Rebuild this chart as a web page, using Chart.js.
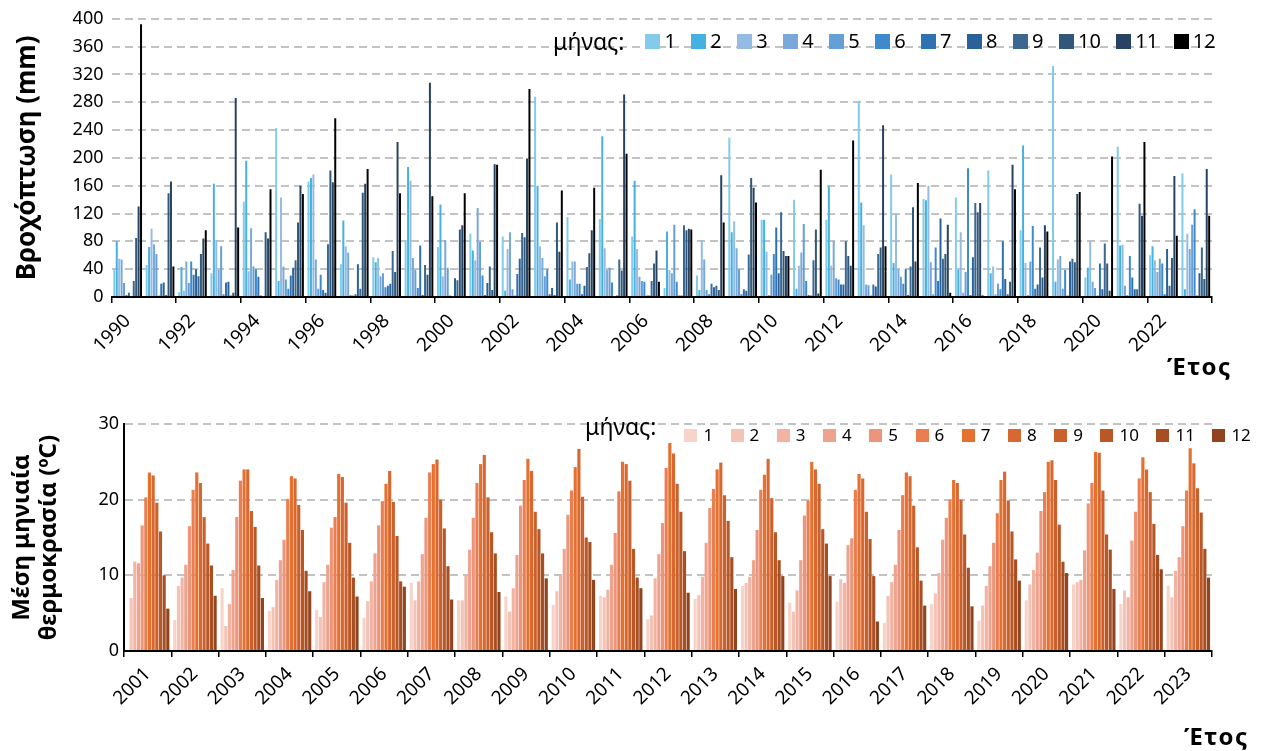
<!DOCTYPE html>
<html>
<head>
<meta charset="utf-8">
<script src="https://cdn.jsdelivr.net/npm/chart.js@4.4.1/dist/chart.umd.min.js"></script>
<style>
    html, body { margin: 0; padding: 0; background: #fff; }
    body { width: 1261px; height: 751px; position: relative; overflow: hidden; font-family: 'Noto Sans', 'Liberation Sans', Arial, sans-serif; color: #000; }
    .box { position: absolute; left: 0; width: 1261px; }
    #rainBox { top: 0; height: 385px; }
    #tempBox { top: 385px; height: 366px; }
    .legend { position: absolute; display: flex; align-items: center; white-space: nowrap; height: 24px; line-height: 24px; }
    .legend .ttl { font-size: 23px; }
    .legend .sw { display: inline-block; }
    .axisTitle { position: absolute; font-weight: bold; font-size: 24px; line-height: 28px; letter-spacing: 1.5px; }
</style>
</head>
<body>
<div class="box" id="rainBox"><canvas id="rainChart"></canvas></div>
<div class="box" id="tempBox"><canvas id="tempChart"></canvas></div>

<div class="legend" id="rainLegend" style="left:553px; top:29px;"></div>
<div class="legend" id="tempLegend" style="left:585px; top:423px;"></div>
<div class="axisTitle" style="left:1167px; top:352px;">Έτος</div>
<div class="axisTitle" style="left:1184px; top:722px;">Έτος</div>

<script>
// month labels (legend) and colours
var monthNames = ['1', '2', '3', '4', '5', '6', '7', '8', '9', '10', '11', '12'];
var rainColors = ['#82cbeb', '#45b1e1', '#94bce3', '#7aa9d9', '#649fd6', '#3f89cd',
                  '#2e72b3', '#2a6198', '#3b6791', '#30587b', '#274361', '#000000'];
var tempColors = ['#f8d3c8', '#f5c3b6', '#f2b3a3', '#eea38f', '#ec957a', '#eb7e51',
                  '#e6702e', '#d8682f', '#ca602b', '#b95826', '#a74f22', '#91441d'];

// Precipitation (mm), one row per year, Jan..Dec
var rainYears = ['1990', '1991', '1992', '1993', '1994', '1995', '1996', '1997', '1998', '1999',
                 '2000', '2001', '2002', '2003', '2004', '2005', '2006', '2007', '2008', '2009',
                 '2010', '2011', '2012', '2013', '2014', '2015', '2016', '2017', '2018', '2019',
                 '2020', '2021', '2022', '2023'];
var rain1990 = [40, 80, 55, 54, 20, 3, 6, 1, 23, 85, 130, 392];
var rain1991 = [46, 72, 98, 76, 62, 2, 19, 21, 3, 149, 166, 44];
var rain1992 = [7, 43, 9, 51, 20, 51, 32, 40, 30, 62, 84, 96];
var rain1993 = [34, 163, 82, 39, 73, 4, 21, 22, 2, 6, 286, 100];
var rain1994 = [137, 196, 37, 99, 44, 40, 29, 2, 1, 93, 84, 155];
var rain1995 = [243, 23, 143, 44, 25, 12, 31, 42, 53, 107, 160, 148];
var rain1996 = [166, 171, 176, 54, 12, 32, 10, 6, 76, 182, 165, 257];
var rain1997 = [47, 110, 73, 64, 3, 2, 4, 47, 12, 150, 163, 184];
var rain1998 = [57, 50, 56, 30, 34, 14, 16, 19, 66, 36, 223, 149];
var rain1999 = [82, 187, 167, 56, 39, 13, 74, 3, 46, 32, 308, 145];
var rain2000 = [72, 133, 30, 82, 42, 2, 1, 27, 24, 97, 103, 149];
var rain2001 = [91, 67, 53, 128, 79, 31, 3, 20, 44, 10, 191, 190];
var rain2002 = [87, 9, 69, 93, 11, 2, 33, 55, 92, 86, 199, 299];
var rain2003 = [288, 160, 73, 56, 30, 40, 4, 13, 3, 107, 65, 153];
var rain2004 = [115, 25, 51, 51, 19, 19, 4, 16, 43, 63, 96, 157];
var rain2005 = [112, 231, 70, 39, 42, 21, 1, 2, 54, 38, 291, 206];
var rain2006 = [87, 167, 69, 29, 23, 22, 2, 2, 23, 48, 67, 22];
var rain2007 = [13, 94, 39, 34, 104, 22, 2, 2, 103, 96, 98, 97];
var rain2008 = [31, 10, 82, 54, 10, 4, 19, 14, 16, 10, 175, 107];
var rain2009 = [229, 93, 109, 70, 40, 4, 11, 9, 61, 171, 157, 136];
var rain2010 = [111, 111, 65, 3, 32, 62, 100, 34, 122, 66, 59, 59];
var rain2011 = [140, 12, 45, 64, 105, 23, 3, 2, 53, 97, 5, 183];
var rain2012 = [111, 159, 45, 81, 27, 25, 18, 18, 80, 59, 45, 225];
var rain2013 = [282, 136, 103, 18, 17, 2, 18, 15, 62, 71, 247, 73];
var rain2014 = [176, 49, 120, 40, 29, 19, 40, 3, 44, 129, 51, 164];
var rain2015 = [141, 139, 160, 50, 4, 71, 23, 113, 55, 62, 104, 6];
var rain2016 = [143, 39, 93, 6, 36, 185, 3, 57, 135, 122, 135, 2];
var rain2017 = [182, 34, 44, 4, 19, 11, 80, 26, 4, 22, 190, 155];
var rain2018 = [96, 218, 49, 3, 51, 102, 12, 18, 71, 28, 103, 94];
var rain2019 = [332, 22, 54, 59, 12, 39, 2, 51, 55, 50, 148, 151];
var rain2020 = [28, 42, 80, 22, 13, 2, 48, 11, 77, 48, 9, 202];
var rain2021 = [216, 74, 75, 16, 3, 59, 28, 11, 11, 134, 117, 223];
var rain2022 = [60, 73, 53, 36, 55, 48, 4, 69, 16, 56, 174, 88];
var rain2023 = [178, 11, 91, 69, 104, 126, 2, 34, 71, 26, 184, 117];

// Mean monthly temperature (ºC), one row per year, Jan..Dec
var tempYears = ['2001', '2002', '2003', '2004', '2005', '2006', '2007', '2008', '2009', '2010',
                 '2011', '2012', '2013', '2014', '2015', '2016', '2017', '2018', '2019', '2020',
                 '2021', '2022', '2023'];
var temp2001 = [null, 7.0, 11.8, 11.6, 16.6, 20.3, 23.6, 23.2, 19.6, 15.8, 10.0, 5.6];
var temp2002 = [4.1, 8.6, 9.7, 11.4, 16.5, 21.3, 23.6, 22.2, 17.7, 14.2, 11.3, 7.3];
var temp2003 = [8.3, 3.3, 6.2, 10.7, 17.7, 22.5, 24.0, 24.0, 18.5, 16.4, 11.3, 7.0];
var temp2004 = [5.3, 5.8, 9.4, 12.0, 14.7, 20.1, 23.1, 22.8, 19.3, 16.0, 10.6, 7.9];
var temp2005 = [5.4, 4.5, 9.1, 11.4, 16.3, 17.7, 23.4, 23.0, 19.6, 14.3, 9.7, 7.2];
var temp2006 = [4.4, 6.6, 9.2, 12.9, 16.6, 19.8, 22.1, 23.8, 19.7, 15.2, 9.2, 8.5];
var temp2007 = [9.0, 6.7, 9.2, 12.8, 17.6, 23.6, 24.7, 25.3, 20.0, 16.2, 11.2, 6.8];
var temp2008 = [6.7, 6.7, 10.0, 13.4, 17.6, 22.2, 24.7, 25.9, 20.3, 15.7, 12.9, 7.8];
var temp2009 = [7.2, 5.2, 8.3, 12.7, 19.2, 22.6, 25.4, 23.8, 18.4, 16.1, 12.9, 9.6];
var temp2010 = [6.1, 7.9, 10.1, 13.5, 18.0, 21.2, 24.3, 26.7, 20.4, 15.0, 14.4, 9.4];
var temp2011 = [7.3, 7.1, 8.1, 11.4, 15.6, 21.1, 25.0, 24.7, 22.5, 13.5, 9.7, 8.3];
var temp2012 = [4.2, 4.7, 9.6, 12.8, 16.9, 24.2, 27.5, 26.1, 22.1, 18.4, 13.2, 7.7];
var temp2013 = [6.9, 7.4, 9.8, 14.3, 18.9, 21.4, 24.0, 24.9, 20.6, 17.2, 12.4, 8.2];
var temp2014 = [8.6, 9.0, 9.8, 12.0, 16.0, 21.3, 23.3, 25.4, 20.2, 15.7, 12.0, 9.9];
var temp2015 = [6.4, 5.2, 8.0, 12.0, 17.9, 19.9, 25.0, 24.0, 22.1, 16.1, 14.2, 9.9];
var temp2016 = [6.5, 9.5, 9.0, 14.0, 14.9, 21.3, 23.4, 22.8, 18.4, 14.8, 9.9, 3.9];
var temp2017 = [3.7, 7.3, 9.1, 11.4, 16.0, 20.6, 23.6, 23.1, 19.2, 13.7, 9.3, 6.0];
var temp2018 = [6.2, 7.6, 10.3, 14.7, 17.6, 20.0, 22.6, 22.2, 20.0, 15.4, 11.0, 5.9];
var temp2019 = [4.0, 6.0, 8.6, 11.2, 14.3, 18.2, 22.6, 23.7, 19.9, 15.8, 12.1, 9.3];
var temp2020 = [6.7, 8.8, 10.7, 13.0, 18.5, 21.0, 25.0, 25.2, 22.6, 16.7, 11.8, 10.3];
var temp2021 = [8.8, 9.1, 9.4, 13.3, 19.5, 22.2, 26.3, 26.2, 21.2, 15.4, 13.4, 8.2];
var temp2022 = [6.2, 8.0, 7.1, 14.6, 18.4, 22.8, 25.6, 24.0, 21.0, 16.8, 12.7, 10.8];
var temp2023 = [8.6, 7.1, 10.6, 12.4, 16.5, 21.2, 26.8, 24.8, 21.5, 18.3, 13.5, 9.7];

var rainRows = [rain1990, rain1991, rain1992, rain1993, rain1994, rain1995, rain1996, rain1997,
                rain1998, rain1999, rain2000, rain2001, rain2002, rain2003, rain2004, rain2005,
                rain2006, rain2007, rain2008, rain2009, rain2010, rain2011, rain2012, rain2013,
                rain2014, rain2015, rain2016, rain2017, rain2018, rain2019, rain2020, rain2021,
                rain2022, rain2023];
var tempRows = [temp2001, temp2002, temp2003, temp2004, temp2005, temp2006, temp2007, temp2008,
                temp2009, temp2010, temp2011, temp2012, temp2013, temp2014, temp2015, temp2016,
                temp2017, temp2018, temp2019, temp2020, temp2021, temp2022, temp2023];

var FONT = "'Noto Sans', 'Liberation Sans', Arial, sans-serif";
var GRID_GRAY = '#c3c3c3';

// one dataset per month: the month's value in every year
function monthDatasets(rows, colors, barPct) {
    return monthNames.map(function (name, m) {
        return {
            label: name,
            data: rows.map(function (r) { return r[m]; }),
            backgroundColor: colors[m],
            borderWidth: 0,
            barPercentage: barPct.bar,
            categoryPercentage: barPct.cat
        };
    });
}

function buildLegend(id, colors, opt) {
    var el = document.getElementById(id);
    var t = document.createElement('span');
    t.className = 'ttl';
    t.textContent = 'μήνας:';
    t.style.marginRight = opt.titleGap + 'px';
    t.style.position = 'relative';
    t.style.top = opt.titleShift + 'px';
    el.appendChild(t);
    monthNames.forEach(function (name, m) {
        var sw = document.createElement('span');
        sw.className = 'sw';
        sw.style.width = opt.box + 'px';
        sw.style.height = opt.box + 'px';
        sw.style.background = colors[m];
        sw.style.marginRight = opt.gap + 'px';
        el.appendChild(sw);
        var lb = document.createElement('span');
        lb.textContent = name;
        lb.style.fontSize = opt.fontSize + 'px';
        lb.style.marginRight = (m < 11 ? opt.pad : 0) + 'px';
        el.appendChild(lb);
    });
}

document.addEventListener("DOMContentLoaded", function () {
    Chart.defaults.font.family = FONT;
    Chart.defaults.color = '#000';

    // Precipitation chart
    var ctxRain = document.getElementById("rainChart").getContext('2d');
    var rainChart = new Chart(ctxRain, {
        type: 'bar',
        data: {
            labels: rainYears,
            datasets: monthDatasets(rainRows, rainColors, { bar: 0.82, cat: 0.9 })
        },
        options: {
            responsive: true,
            maintainAspectRatio: false,
            animation: false,
            layout: { padding: { top: 17, right: 49, left: 0, bottom: 0 } },
            plugins: { legend: { display: false }, tooltip: { enabled: false } },
            scales: {
                x: {
                    grid: {
                        offset: true,
                        drawOnChartArea: false,
                        drawTicks: true,
                        tickLength: 6,
                        lineWidth: 1.5,
                        color: function (c) {
                            if (c.tick === undefined) return '#000';
                            return c.index % 2 === 0 ? '#000' : 'rgba(0,0,0,0)';
                        }
                    },
                    border: { display: true, color: '#000', width: 2 },
                    ticks: {
                        autoSkip: false,
                        minRotation: 45,
                        maxRotation: 45,
                        padding: 7,
                        font: { size: 19 },
                        callback: function (val, i) { return i % 2 === 0 ? rainYears[i] : ''; }
                    },
                    afterFit: function (scale) { scale.height = 88; }
                },
                y: {
                    min: 0,
                    max: 400,
                    ticks: { stepSize: 40, padding: 8, font: { size: 18 } },
                    grid: { color: GRID_GRAY, lineWidth: 2, drawTicks: false },
                    border: { display: false, dash: [8, 5] },
                    title: {
                        display: true,
                        text: 'Βροχόπτωση (mm)',
                        font: { size: 26, weight: 'bold', lineHeight: 1.2 },
                        padding: { top: 12, bottom: 0 }
                    },
                    afterFit: function (scale) { scale.width = 111.5; }
                }
            }
        }
    });

    // Temperature chart
    var ctxTemp = document.getElementById("tempChart").getContext('2d');
    var tempChart = new Chart(ctxTemp, {
        type: 'bar',
        data: {
            labels: tempYears,
            datasets: monthDatasets(tempRows, tempColors, { bar: 0.86, cat: 0.93 })
        },
        options: {
            responsive: true,
            maintainAspectRatio: false,
            animation: false,
            layout: { padding: { top: 39, right: 49, left: 0, bottom: 0 } },
            plugins: { legend: { display: false }, tooltip: { enabled: false } },
            scales: {
                x: {
                    grid: {
                        offset: true,
                        drawOnChartArea: false,
                        drawTicks: true,
                        tickLength: 6,
                        lineWidth: 1.5,
                        color: '#000'
                    },
                    border: { display: true, color: '#000', width: 2 },
                    ticks: {
                        autoSkip: false,
                        minRotation: 45,
                        maxRotation: 45,
                        padding: 6,
                        font: { size: 19 }
                    },
                    afterFit: function (scale) { scale.height = 100; }
                },
                y: {
                    min: 0,
                    max: 30,
                    ticks: { stepSize: 10, padding: 5, font: { size: 18 } },
                    grid: { color: GRID_GRAY, lineWidth: 2, drawTicks: false },
                    border: { display: true, color: '#000', width: 2, dash: [8, 5] },
                    title: {
                        display: true,
                        text: ['Μέση μηνιαία', 'θερμοκρασία (ºC)'],
                        font: { size: 24, weight: 'bold', lineHeight: 1.15 },
                        padding: { top: 8, bottom: 0 }
                    },
                    afterFit: function (scale) { scale.width = 124; }
                }
            }
        }
    });

    buildLegend('rainLegend', rainColors, { box: 15, fontSize: 20, gap: 4, pad: 15.5, titleGap: 21, titleShift: 0 });
    buildLegend('tempLegend', tempColors, { box: 13, fontSize: 17, gap: 6, pad: 17.5, titleGap: 28, titleShift: -9 });
});
</script>
</body>
</html>
